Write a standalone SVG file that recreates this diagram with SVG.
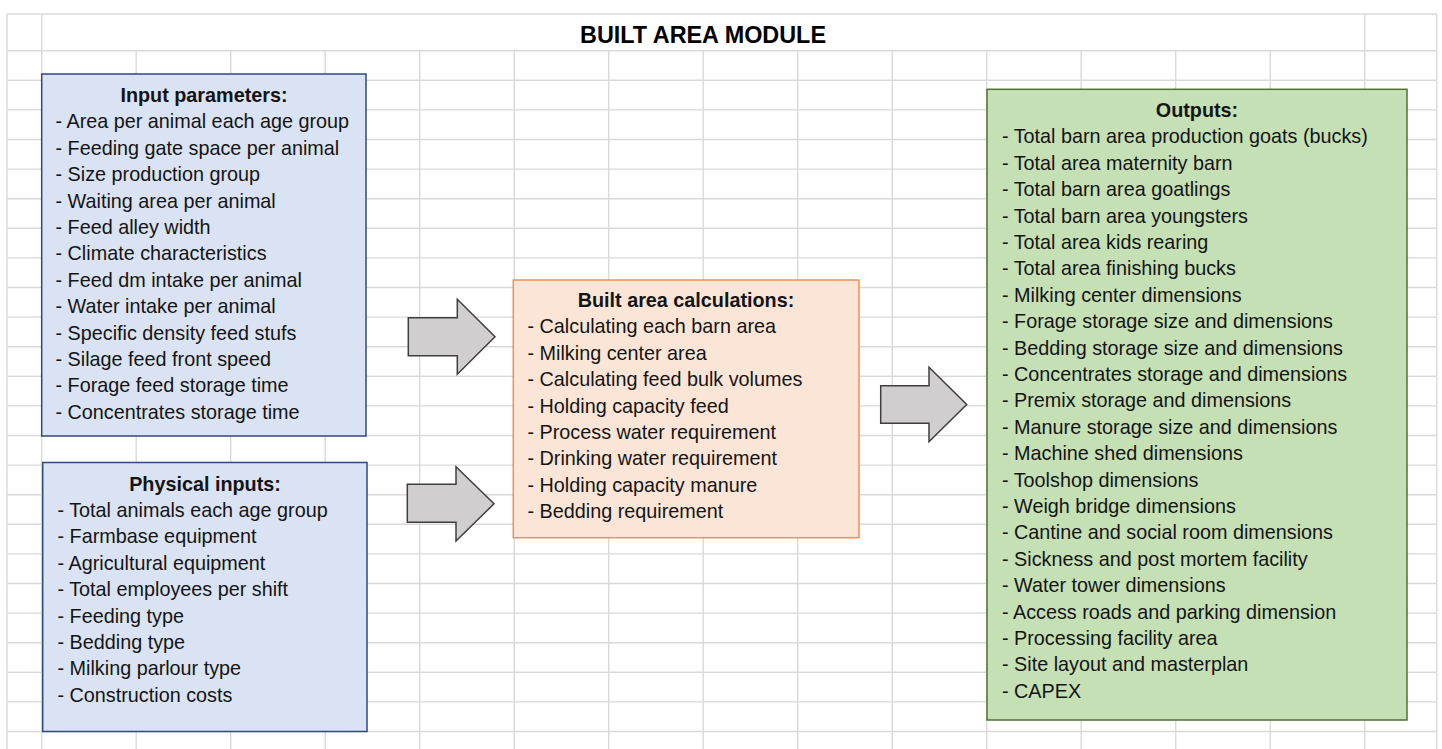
<svg xmlns="http://www.w3.org/2000/svg" width="1442" height="749" viewBox="0 0 1442 749">
<style>
.grid line{stroke:#d9d9d9;stroke-width:1.4}
.t{font-family:"Liberation Sans",Arial,sans-serif;font-size:19.8px;fill:#141414}
.h{font-weight:bold;text-anchor:middle}
.title{font-family:"Liberation Sans",Arial,sans-serif;font-size:23.4px;font-weight:bold;fill:#000;text-anchor:middle}
.arrow{fill:#d0cece;stroke:#3f3f3f;stroke-width:1.5;stroke-linejoin:miter}
</style>
<rect x="0" y="0" width="1442" height="749" fill="#ffffff"/>
<g class="grid" id="grid">
<line x1="7" y1="14" x2="1437" y2="14"/>
<line x1="7" y1="50.7" x2="1437" y2="50.7"/>
<line x1="7" y1="80.3" x2="1437" y2="80.3"/>
<line x1="7" y1="109.9" x2="1437" y2="109.9"/>
<line x1="7" y1="139.5" x2="1437" y2="139.5"/>
<line x1="7" y1="169.1" x2="1437" y2="169.1"/>
<line x1="7" y1="198.7" x2="1437" y2="198.7"/>
<line x1="7" y1="228.3" x2="1437" y2="228.3"/>
<line x1="7" y1="257.9" x2="1437" y2="257.9"/>
<line x1="7" y1="287.5" x2="1437" y2="287.5"/>
<line x1="7" y1="317.1" x2="1437" y2="317.1"/>
<line x1="7" y1="346.7" x2="1437" y2="346.7"/>
<line x1="7" y1="376.3" x2="1437" y2="376.3"/>
<line x1="7" y1="405.9" x2="1437" y2="405.9"/>
<line x1="7" y1="435.5" x2="1437" y2="435.5"/>
<line x1="7" y1="465.1" x2="1437" y2="465.1"/>
<line x1="7" y1="494.7" x2="1437" y2="494.7"/>
<line x1="7" y1="524.3" x2="1437" y2="524.3"/>
<line x1="7" y1="553.9" x2="1437" y2="553.9"/>
<line x1="7" y1="583.5" x2="1437" y2="583.5"/>
<line x1="7" y1="613.1" x2="1437" y2="613.1"/>
<line x1="7" y1="642.7" x2="1437" y2="642.7"/>
<line x1="7" y1="672.3" x2="1437" y2="672.3"/>
<line x1="7" y1="701.9" x2="1437" y2="701.9"/>
<line x1="7" y1="731.5" x2="1437" y2="731.5"/>
<line x1="7" y1="14" x2="7" y2="749"/>
<line x1="41.7" y1="14" x2="41.7" y2="749"/>
<line x1="1364.7" y1="14" x2="1364.7" y2="749"/>
<line x1="1436.7" y1="14" x2="1436.7" y2="749"/>
<line x1="136.2" y1="50.7" x2="136.2" y2="749"/>
<line x1="230.7" y1="50.7" x2="230.7" y2="749"/>
<line x1="325.2" y1="50.7" x2="325.2" y2="749"/>
<line x1="419.7" y1="50.7" x2="419.7" y2="749"/>
<line x1="514.2" y1="50.7" x2="514.2" y2="749"/>
<line x1="608.7" y1="50.7" x2="608.7" y2="749"/>
<line x1="703.2" y1="50.7" x2="703.2" y2="749"/>
<line x1="797.7" y1="50.7" x2="797.7" y2="749"/>
<line x1="892.2" y1="50.7" x2="892.2" y2="749"/>
<line x1="986.7" y1="50.7" x2="986.7" y2="749"/>
<line x1="1081.2" y1="50.7" x2="1081.2" y2="749"/>
<line x1="1175.7" y1="50.7" x2="1175.7" y2="749"/>
<line x1="1270.2" y1="50.7" x2="1270.2" y2="749"/>
</g>
<g id="title">
<text class="title" x="703" y="43">BUILT AREA MODULE</text>
</g>
<g id="input-parameters">
<rect x="41.7" y="74" width="324.3" height="362" fill="#dae3f3" stroke="#2f4a7c" stroke-width="1.5"/>
<text class="t h" x="204" y="101.7">Input parameters:</text>
<text class="t" x="55.5" y="128.3">- Area per animal each age group</text>
<text class="t" x="55.5" y="154.7">- Feeding gate space per animal</text>
<text class="t" x="55.5" y="181.1">- Size production group</text>
<text class="t" x="55.5" y="207.5">- Waiting area per animal</text>
<text class="t" x="55.5" y="233.9">- Feed alley width</text>
<text class="t" x="55.5" y="260.3">- Climate characteristics</text>
<text class="t" x="55.5" y="286.7">- Feed dm intake per animal</text>
<text class="t" x="55.5" y="313.1">- Water intake per animal</text>
<text class="t" x="55.5" y="339.5">- Specific density feed stufs</text>
<text class="t" x="55.5" y="365.9">- Silage feed front speed</text>
<text class="t" x="55.5" y="392.3">- Forage feed storage time</text>
<text class="t" x="55.5" y="418.7">- Concentrates storage time</text>
</g>
<g id="physical-inputs">
<rect x="42.7" y="462.5" width="324.3" height="269" fill="#dae3f3" stroke="#2f4a7c" stroke-width="1.5"/>
<text class="t h" x="205" y="490.5">Physical inputs:</text>
<text class="t" x="57.5" y="516.9">- Total animals each age group</text>
<text class="t" x="57.5" y="543.3">- Farmbase equipment</text>
<text class="t" x="57.5" y="569.7">- Agricultural equipment</text>
<text class="t" x="57.5" y="596.1">- Total employees per shift</text>
<text class="t" x="57.5" y="622.5">- Feeding type</text>
<text class="t" x="57.5" y="648.9">- Bedding type</text>
<text class="t" x="57.5" y="675.3">- Milking parlour type</text>
<text class="t" x="57.5" y="701.7">- Construction costs</text>
</g>
<g id="calculations">
<rect x="513.3" y="280" width="345.7" height="257.7" fill="#fbe5d6" stroke="#f0904f" stroke-width="1.5"/>
<text class="t h" x="686" y="306.7">Built area calculations:</text>
<text class="t" x="527.5" y="333.3">- Calculating each barn area</text>
<text class="t" x="527.5" y="359.7">- Milking center area</text>
<text class="t" x="527.5" y="386.1">- Calculating feed bulk volumes</text>
<text class="t" x="527.5" y="412.5">- Holding capacity feed</text>
<text class="t" x="527.5" y="438.9">- Process water requirement</text>
<text class="t" x="527.5" y="465.3">- Drinking water requirement</text>
<text class="t" x="527.5" y="491.7">- Holding capacity manure</text>
<text class="t" x="527.5" y="518.1">- Bedding requirement</text>
</g>
<g id="outputs">
<rect x="987" y="89.3" width="420" height="630.7" fill="#c5e0b4" stroke="#4f7330" stroke-width="1.5"/>
<text class="t h" x="1197" y="116.7">Outputs:</text>
<text class="t" x="1002" y="143.3">- Total barn area production goats (bucks)</text>
<text class="t" x="1002" y="169.7">- Total area maternity barn</text>
<text class="t" x="1002" y="196.1">- Total barn area goatlings</text>
<text class="t" x="1002" y="222.5">- Total barn area youngsters</text>
<text class="t" x="1002" y="248.9">- Total area kids rearing</text>
<text class="t" x="1002" y="275.3">- Total area finishing bucks</text>
<text class="t" x="1002" y="301.7">- Milking center dimensions</text>
<text class="t" x="1002" y="328.1">- Forage storage size and dimensions</text>
<text class="t" x="1002" y="354.5">- Bedding storage size and dimensions</text>
<text class="t" x="1002" y="380.9">- Concentrates storage and dimensions</text>
<text class="t" x="1002" y="407.3">- Premix storage and dimensions</text>
<text class="t" x="1002" y="433.7">- Manure storage size and dimensions</text>
<text class="t" x="1002" y="460.1">- Machine shed dimensions</text>
<text class="t" x="1002" y="486.5">- Toolshop dimensions</text>
<text class="t" x="1002" y="512.9">- Weigh bridge dimensions</text>
<text class="t" x="1002" y="539.3">- Cantine and social room dimensions</text>
<text class="t" x="1002" y="565.7">- Sickness and post mortem facility</text>
<text class="t" x="1002" y="592.1">- Water tower dimensions</text>
<text class="t" x="1002" y="618.5">- Access roads and parking dimension</text>
<text class="t" x="1002" y="644.9">- Processing facility area</text>
<text class="t" x="1002" y="671.3">- Site layout and masterplan</text>
<text class="t" x="1002" y="697.7">- CAPEX</text>
</g>
<g id="connectors">
<polygon class="arrow" points="408.3,317.7 457.3,317.7 457.3,299.3 495,336.8 457.3,374.3 457.3,355.7 408.3,355.7"/>
<polygon class="arrow" points="407.3,484.3 456,484.3 456,466.7 494,503.8 456,541 456,522.3 407.3,522.3"/>
<polygon class="arrow" points="880.7,385.7 929,385.7 929,367.3 966.7,404.5 929,441.7 929,423.3 880.7,423.3"/>
</g>
</svg>
